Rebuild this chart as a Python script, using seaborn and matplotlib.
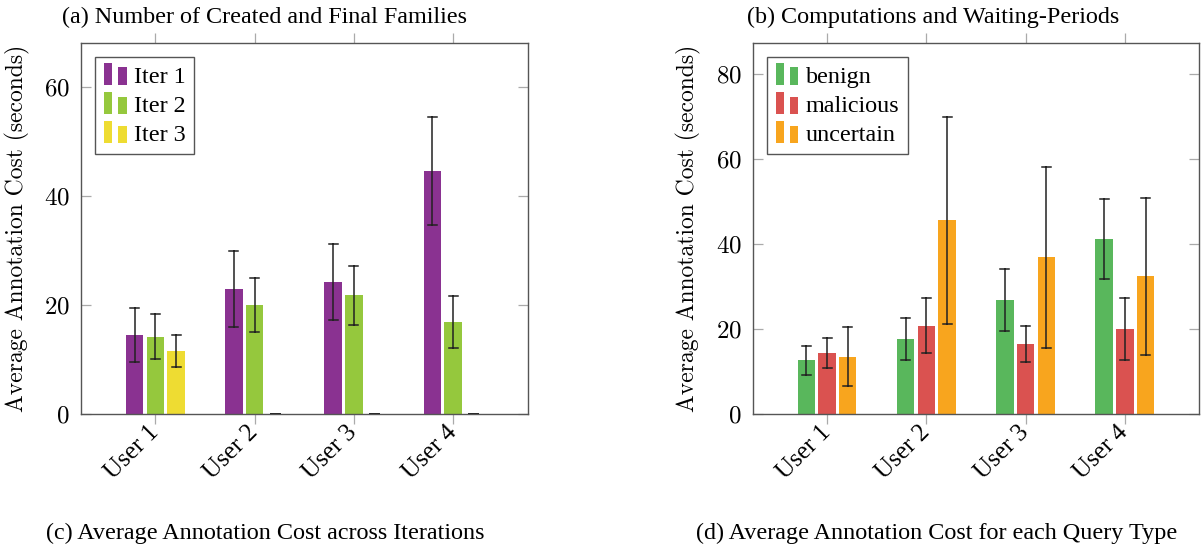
import pandas as pd
import matplotlib
matplotlib.use("Agg")
import matplotlib.pyplot as plt
from matplotlib.patches import Patch, Rectangle
from matplotlib.legend_handler import HandlerBase
import seaborn as sns

# Categories
users = ["User 1", "User 2", "User 3", "User 4"]

# Panel (c): cost across iterations (mean, +/- error)
iter_labels = ["Iter 1", "Iter 2", "Iter 3"]
iter1_mean = [14.5, 22.9, 24.2, 44.6]
iter1_err = [5.0, 7.0, 7.0, 9.9]
iter2_mean = [14.2, 20.0, 21.8, 16.9]
iter2_err = [4.1, 5.0, 5.4, 4.7]
iter3_mean = [11.6, 0.0, 0.0, 0.0]
iter3_err = [3.0, 0.0, 0.0, 0.0]
iter_colors = ["#8A3291", "#95C83D", "#EEDC32"]

# Panel (d): cost per query type
query_labels = ["benign", "malicious", "uncertain"]
benign_mean = [12.6, 17.6, 26.8, 41.2]
benign_err = [3.5, 4.9, 7.3, 9.4]
malicious_mean = [14.4, 20.8, 16.5, 20.1]
malicious_err = [3.6, 6.4, 4.3, 7.3]
uncertain_mean = [13.5, 45.6, 36.9, 32.4]
uncertain_err = [7.0, 24.3, 21.3, 18.4]
query_colors = ["#59B75C", "#DA5250", "#F8A51E"]

SERIF = "Liberation Serif"
FS = 17.4


class TwoBarHandler(HandlerBase):
    """pgfplots-style ybar legend image: two small bars."""

    def create_artists(self, legend, orig_handle, xdescent, ydescent,
                       width, height, fontsize, trans):
        c = orig_handle.get_facecolor()
        w = width * 0.34
        x0, y0 = -xdescent, -ydescent - 0.15 * height
        r1 = Rectangle((x0, y0), w, height * 1.3, facecolor=c,
                       edgecolor="none", transform=trans)
        r2 = Rectangle((x0 + width * 0.6, y0), w, height * 1.05,
                       facecolor=c, edgecolor="none", transform=trans)
        return [r1, r2]


def long_frame(names, means, errs):
    # two values per bar: mean-err and mean+err -> mean and full range
    rows = []
    for name, m, e in zip(names, means, errs):
        for u, mi, ei in zip(users, m, e):
            rows.append((u, name, mi - ei))
            rows.append((u, name, mi + ei))
    return pd.DataFrame(rows, columns=["user", "series", "cost"])


def draw_panel(ax, df, names, colors, ymax, yticks):
    sns.barplot(data=df, x="user", y="cost", hue="series", hue_order=names,
                palette=colors, estimator="mean", errorbar=("pi", 100),
                width=0.625, gap=0.16, capsize=0.27,
                err_kws={"color": "#222222", "linewidth": 1.1},
                saturation=1, legend=False, ax=ax)
    ax.set_xlim(-0.75, 3.75)
    ax.set_ylim(0, ymax)
    ax.set_yticks(yticks)
    ax.set_xlabel("")
    ax.set_ylabel("Average Annotation Cost (seconds)", fontsize=17,
                  fontfamily="cmr10")
    ax.yaxis.set_label_coords(-0.115, 0.5)
    for s in ax.spines.values():
        s.set_color("#555555")
        s.set_linewidth(1.0)
    ax.tick_params(axis="x", direction="out", top=True, length=7,
                   width=0.9, color="#aaaaaa", labelsize=18, pad=4)
    ax.tick_params(axis="y", direction="in", right=True, length=7,
                   width=0.9, color="#aaaaaa", labelsize=18, pad=8)
    for t in ax.get_yticklabels():
        t.set_fontfamily("cmr10")
    plt.setp(ax.get_xticklabels(), rotation=45, ha="right", va="center",
             rotation_mode="anchor", fontfamily=SERIF)
    handles = [Patch(facecolor=c, label=n) for n, c in zip(names, colors)]
    leg = ax.legend(handles=handles, loc="upper left",
                    handler_map={Patch: TwoBarHandler()},
                    handlelength=1.0, handletextpad=0.25, labelspacing=0.3,
                    borderaxespad=0.6, borderpad=0.35, fancybox=False,
                    framealpha=1, edgecolor="#555555",
                    prop={"family": SERIF, "size": FS})
    leg.get_frame().set_linewidth(1.0)


plt.rcParams["axes.formatter.use_mathtext"] = True
plt.rcParams["font.family"] = [SERIF, "DejaVu Serif"]

fig = plt.figure(figsize=(12.03, 5.49), dpi=100)
ax_c = fig.add_axes([0.0673, 0.2459, 0.3712, 0.6763])
ax_d = fig.add_axes([0.6257, 0.2459, 0.3712, 0.6763])

df_iter = long_frame(iter_labels, [iter1_mean, iter2_mean, iter3_mean],
                     [iter1_err, iter2_err, iter3_err])
df_query = long_frame(query_labels,
                      [benign_mean, malicious_mean, uncertain_mean],
                      [benign_err, malicious_err, uncertain_err])

draw_panel(ax_c, df_iter, iter_labels, iter_colors, 68.2, [0, 20, 40, 60])
draw_panel(ax_d, df_query, query_labels, query_colors, 87.4,
           [0, 20, 40, 60, 80])

fig.text(265 / 1203, 1 - 17 / 549, "(a) Number of Created and Final Families",
         ha="center", va="center", fontsize=FS, fontfamily=SERIF)
fig.text(933 / 1203, 1 - 17 / 549, "(b) Computations and Waiting-Periods",
         ha="center", va="center", fontsize=FS, fontfamily=SERIF)
fig.text(265 / 1203, 1 - 533 / 549,
         "(c) Average Annotation Cost across Iterations",
         ha="center", va="center", fontsize=FS, fontfamily=SERIF)
fig.text(937 / 1203, 1 - 533 / 549,
         "(d) Average Annotation Cost for each Query Type",
         ha="center", va="center", fontsize=FS, fontfamily=SERIF)

fig.savefig("out.png", dpi=100)
